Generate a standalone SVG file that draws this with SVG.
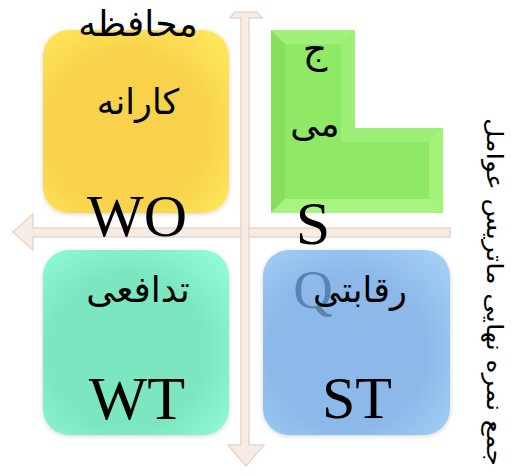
<svg xmlns="http://www.w3.org/2000/svg" width="515" height="476" viewBox="0 0 515 476">
<style>
.ar{font-family:"DejaVu Sans","Noto Sans",sans-serif;fill:#000;text-anchor:middle}
.lat{font-family:"Liberation Serif","Times New Roman",serif;fill:#000;text-anchor:middle}
.axis{fill:#F7ECE4;stroke:#E9D6C8;stroke-width:1.5}
</style>
<defs>
<radialGradient id="gY" cx="0.45" cy="0.55" r="0.7">
<stop offset="0.6" stop-color="#F8D24C"/><stop offset="1" stop-color="#FFE75A"/>
</radialGradient>
<radialGradient id="gT" cx="0.45" cy="0.55" r="0.7">
<stop offset="0.6" stop-color="#7CE6C0"/><stop offset="1" stop-color="#8FFAD6"/>
</radialGradient>
<radialGradient id="gB" cx="0.45" cy="0.55" r="0.7">
<stop offset="0.6" stop-color="#8CB9E9"/><stop offset="1" stop-color="#A2CDF5"/>
</radialGradient>
<filter id="soft" x="-10%" y="-10%" width="120%" height="120%">
<feGaussianBlur in="SourceAlpha" stdDeviation="2"/>
<feOffset dx="0" dy="1" result="b"/>
<feFlood flood-color="#000" flood-opacity="0.18"/>
<feComposite in2="b" operator="in"/>
<feMerge><feMergeNode/><feMergeNode in="SourceGraphic"/></feMerge>
</filter>
</defs>

<g id="connectors">
<polygon class="axis" points="13,232 33,214 33,228 450,228 450,237 33,237 33,250"/>
<polygon class="axis" points="235,12 257,12 262,18 249,18 249,445 264,445 246,466 228,445 241,445 241,18 230,18"/>
</g>

<g id="node-wo">
<rect x="43" y="30" width="186" height="183" rx="26" fill="url(#gY)" filter="url(#soft)"/>
<text class="ar" x="138" y="36" font-size="36">محافظه</text>
<text class="ar" x="138" y="114" font-size="35">کارانه</text>
<text class="lat" x="137" y="236" font-size="60">WO</text>
</g>

<g id="node-s">
<polygon points="271,30 355,30 355,128 443,128 443,213 271,213" fill="#9CEE74"/>
<polygon points="271,30 285,44 285,199 271,213" fill="#86DE5C"/>
<polygon points="271,30 355,30 341,44 285,44" fill="#A2F07A"/>
<polygon points="271,213 285,199 429,199 443,213" fill="#A8F482"/>
<polygon points="443,128 443,213 429,199 429,142" fill="#A4F27C"/>
<polygon points="285,44 341,44 341,142 429,142 429,199 285,199" fill="#90E966"/>
<text class="ar" x="315" y="62" font-size="38">ج</text>
<text class="ar" x="315" y="136" font-size="36">می</text>
<text class="lat" x="313" y="244" font-size="62">S</text>
</g>

<g id="node-wt">
<rect x="43" y="250" width="186" height="185" rx="26" fill="url(#gT)" filter="url(#soft)"/>
<text class="ar" x="138" y="302" font-size="36">تدافعی</text>
<text class="lat" x="137" y="419" font-size="62">WT</text>
</g>

<g id="node-st">
<rect x="263" y="250" width="187" height="185" rx="26" fill="url(#gB)" filter="url(#soft)"/>
<text class="lat" x="313" y="308" font-size="55" style="fill:#4F7BA8;opacity:0.85">Q</text>
<text class="ar" x="360" y="302" font-size="35">رقابتی</text>
<text class="lat" x="357" y="418" font-size="60">ST</text>
</g>

<g id="side-label">
<text class="ar" font-size="23" transform="translate(487,292) rotate(90)" textLength="348" lengthAdjust="spacingAndGlyphs">جمع نمره نهایی ماتریس عوامل</text>
</g>
</svg>
